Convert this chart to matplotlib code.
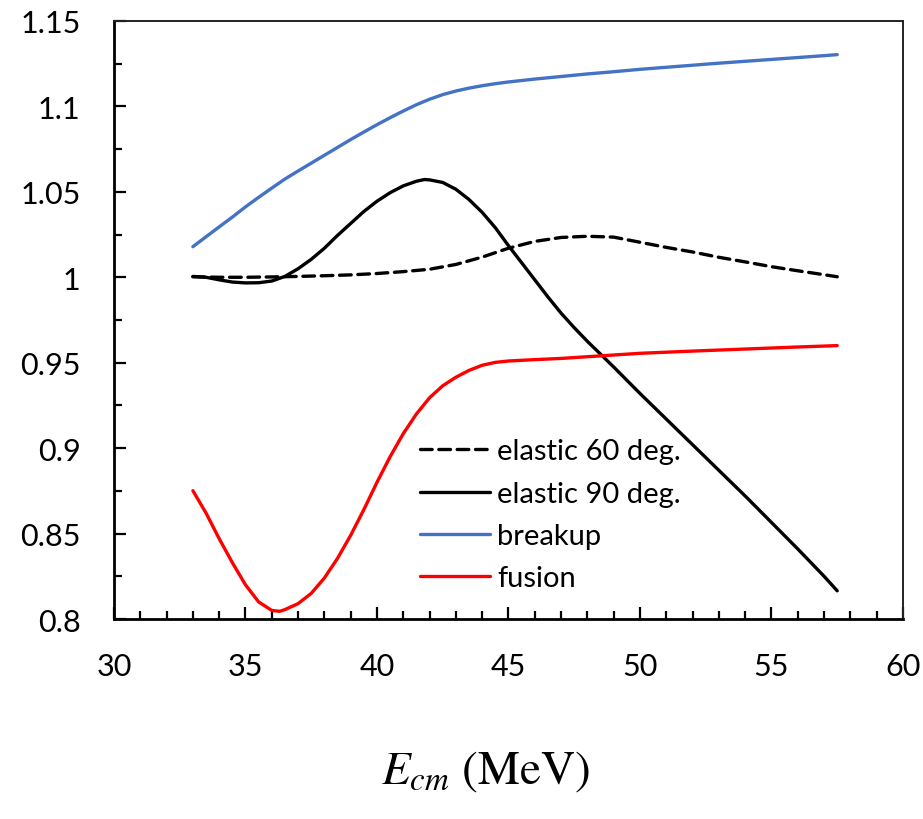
import matplotlib
matplotlib.use("Agg")
import matplotlib.pyplot as plt
from matplotlib.ticker import MultipleLocator, FuncFormatter

plt.rcParams['font.family'] = ['Lato', 'DejaVu Sans']
plt.rcParams['mathtext.fontset'] = 'stix'

# elastic scattering ratio at 60 deg
e60_x = [33, 34, 35, 36, 37, 38, 39, 40, 41, 42, 43, 44, 45, 46, 47, 48,
         49, 50, 51, 52, 53, 54, 55, 56, 57, 57.5]
e60_y = [1.0003, 1.0000, 1.0000, 1.0002, 1.0005, 1.0009, 1.0014, 1.0022,
         1.0033, 1.0047, 1.0075, 1.0118, 1.0170, 1.0210, 1.0233, 1.0240,
         1.0235, 1.0205, 1.0175, 1.0148, 1.0117, 1.0090, 1.0062, 1.0038,
         1.0015, 1.0003]

# elastic scattering ratio at 90 deg
e90_x = [33, 33.5, 34, 34.5, 35, 35.5, 36, 36.5, 37, 37.5, 38, 38.5, 39,
         39.5, 40, 40.5, 41, 41.5, 41.8, 42, 42.5, 43, 43.5, 44, 44.5, 45,
         45.5, 46, 46.5, 47, 47.5, 48, 48.5, 49, 50, 51, 52, 53, 54, 55,
         56, 57, 57.5]
e90_y = [1.0005, 1.0000, 0.9985, 0.9972, 0.9967, 0.9968, 0.9978, 1.0005,
         1.0050, 1.0105, 1.0170, 1.0245, 1.0315, 1.0385, 1.0445, 1.0495,
         1.0535, 1.0562, 1.0572, 1.0570, 1.0555, 1.0515, 1.0455, 1.0380,
         1.0290, 1.0185, 1.0085, 0.9985, 0.9885, 0.9790, 0.9705, 0.9625,
         0.9550, 0.9475, 0.9320, 0.9170, 0.9020, 0.8870, 0.8720, 0.8565,
         0.8410, 0.8250, 0.8165]

# breakup
bu_x = [33, 33.5, 34, 34.5, 35, 35.5, 36, 36.5, 37, 37.5, 38, 38.5, 39,
        39.5, 40, 40.5, 41, 41.5, 42, 42.5, 43, 43.5, 44, 44.5, 45, 46, 47,
        48, 49, 50, 51, 52, 53, 54, 55, 56, 57, 57.5]
bu_y = [1.0179, 1.0237, 1.0295, 1.0352, 1.0412, 1.0468, 1.0522, 1.0575,
        1.0622, 1.0668, 1.0714, 1.0760, 1.0806, 1.0850, 1.0893, 1.0934,
        1.0973, 1.1010, 1.1042, 1.1069, 1.1090, 1.1107, 1.1121, 1.1133,
        1.1143, 1.1160, 1.1175, 1.1190, 1.1203, 1.1217, 1.1229, 1.1241,
        1.1253, 1.1264, 1.1275, 1.1286, 1.1297, 1.1303]

# fusion
fu_x = [33, 33.5, 34, 34.5, 35, 35.5, 36, 36.3, 36.5, 37, 37.5, 38, 38.5,
        39, 39.5, 40, 40.5, 41, 41.5, 42, 42.5, 43, 43.5, 44, 44.5, 45, 46,
        47, 48, 49, 50, 52, 54, 56, 57.5]
fu_y = [0.8751, 0.8620, 0.8470, 0.8330, 0.8200, 0.8100, 0.8050, 0.8045,
        0.8055, 0.8090, 0.8150, 0.8240, 0.8355, 0.8490, 0.8640, 0.8800,
        0.8950, 0.9085, 0.9200, 0.9295, 0.9365, 0.9415, 0.9455, 0.9485,
        0.9502, 0.9510, 0.9518, 0.9525, 0.9535, 0.9545, 0.9555, 0.9568,
        0.9580, 0.9592, 0.9600]

fig = plt.figure(figsize=(9.23, 8.2), dpi=100)
ax = fig.add_axes([0.1235, 0.2439, 0.8548, 0.7293])

lw = 2.4
ax.plot(e60_x, e60_y, color='black', lw=lw, dashes=(3.5, 2.0),
        dash_capstyle='round', label='elastic 60 deg.')
ax.plot(e90_x, e90_y, color='black', lw=lw, solid_capstyle='round',
        label='elastic 90 deg.')
ax.plot(bu_x, bu_y, color='#4472C4', lw=lw, solid_capstyle='round',
        label='breakup')
ax.plot(fu_x, fu_y, color='#FF0000', lw=lw, solid_capstyle='round',
        label='fusion')

ax.set_xlim(30, 60)
ax.set_ylim(0.8, 1.15)
ax.xaxis.set_major_locator(MultipleLocator(5))
ax.xaxis.set_minor_locator(MultipleLocator(1))
ax.yaxis.set_major_locator(MultipleLocator(0.05))
ax.yaxis.set_minor_locator(MultipleLocator(0.025))
ax.yaxis.set_major_formatter(FuncFormatter(lambda v, p: '{:g}'.format(round(v, 3))))

ax.tick_params(which='both', direction='in', top=False, right=False,
               width=1.6, color='black', labelsize=22, pad=24)
ax.tick_params(which='major', length=8.5)
ax.tick_params(which='minor', length=6)

for side in ['left', 'bottom']:
    ax.spines[side].set_linewidth(2.0)
    ax.spines[side].set_color('black')
for side in ['top', 'right']:
    ax.spines[side].set_linewidth(1.4)
    ax.spines[side].set_color('#222222')

ax.legend(loc='upper left', bbox_to_anchor=(0.388, 0.302), frameon=False,
          fontsize=21, handlelength=2.4, handletextpad=0.25,
          labelspacing=0.56, borderpad=0, borderaxespad=0)

fig.text(0.5266, 0.0585, r'$E_{cm}\ \mathrm{(MeV)}$', fontsize=34,
         ha='center', va='center')

fig.savefig('out.png', dpi=100)
